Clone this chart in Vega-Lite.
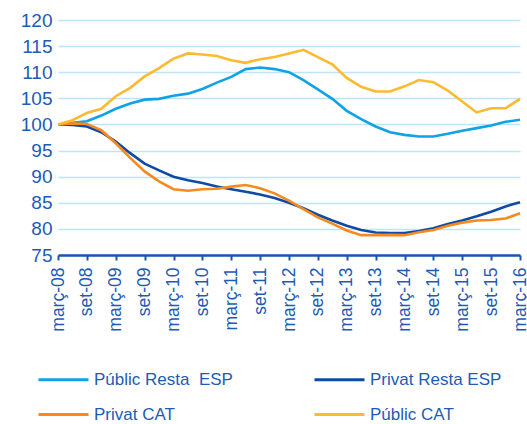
{
  "$schema": "https://vega.github.io/schema/vega-lite/v6.json",
  "width": 462,
  "height": 235,
  "autosize": "none",
  "padding": {"left": 58, "top": 20, "right": 7, "bottom": 169},
  "background": "white",
  "config": {
    "view": {"stroke": null},
    "font": "Liberation Sans"
  },
  "data": {
    "values": [
      {"period": "març-08", "series": "Públic Resta\u00a0 ESP", "value": 100.0},
      {"period": "jun-08", "series": "Públic Resta\u00a0 ESP", "value": 100.3},
      {"period": "set-08", "series": "Públic Resta\u00a0 ESP", "value": 100.6},
      {"period": "des-08", "series": "Públic Resta\u00a0 ESP", "value": 101.7},
      {"period": "març-09", "series": "Públic Resta\u00a0 ESP", "value": 103.0},
      {"period": "jun-09", "series": "Públic Resta\u00a0 ESP", "value": 104.0},
      {"period": "set-09", "series": "Públic Resta\u00a0 ESP", "value": 104.75},
      {"period": "des-09", "series": "Públic Resta\u00a0 ESP", "value": 104.9},
      {"period": "març-10", "series": "Públic Resta\u00a0 ESP", "value": 105.5},
      {"period": "jun-10", "series": "Públic Resta\u00a0 ESP", "value": 105.9},
      {"period": "set-10", "series": "Públic Resta\u00a0 ESP", "value": 106.8},
      {"period": "des-10", "series": "Públic Resta\u00a0 ESP", "value": 108.0},
      {"period": "març-11", "series": "Públic Resta\u00a0 ESP", "value": 109.1},
      {"period": "jun-11", "series": "Públic Resta\u00a0 ESP", "value": 110.6},
      {"period": "set-11", "series": "Públic Resta\u00a0 ESP", "value": 110.9},
      {"period": "des-11", "series": "Públic Resta\u00a0 ESP", "value": 110.6},
      {"period": "març-12", "series": "Públic Resta\u00a0 ESP", "value": 110.0},
      {"period": "jun-12", "series": "Públic Resta\u00a0 ESP", "value": 108.5},
      {"period": "set-12", "series": "Públic Resta\u00a0 ESP", "value": 106.7},
      {"period": "des-12", "series": "Públic Resta\u00a0 ESP", "value": 104.9},
      {"period": "març-13", "series": "Públic Resta\u00a0 ESP", "value": 102.6},
      {"period": "jun-13", "series": "Públic Resta\u00a0 ESP", "value": 101.0},
      {"period": "set-13", "series": "Públic Resta\u00a0 ESP", "value": 99.6},
      {"period": "des-13", "series": "Públic Resta\u00a0 ESP", "value": 98.5},
      {"period": "març-14", "series": "Públic Resta\u00a0 ESP", "value": 98.0},
      {"period": "jun-14", "series": "Públic Resta\u00a0 ESP", "value": 97.7},
      {"period": "set-14", "series": "Públic Resta\u00a0 ESP", "value": 97.7},
      {"period": "des-14", "series": "Públic Resta\u00a0 ESP", "value": 98.2},
      {"period": "març-15", "series": "Públic Resta\u00a0 ESP", "value": 98.8},
      {"period": "jun-15", "series": "Públic Resta\u00a0 ESP", "value": 99.3},
      {"period": "set-15", "series": "Públic Resta\u00a0 ESP", "value": 99.8},
      {"period": "des-15", "series": "Públic Resta\u00a0 ESP", "value": 100.5},
      {"period": "març-16", "series": "Públic Resta\u00a0 ESP", "value": 100.9},

      {"period": "març-08", "series": "Privat Resta ESP", "value": 100.0},
      {"period": "jun-08", "series": "Privat Resta ESP", "value": 99.9},
      {"period": "set-08", "series": "Privat Resta ESP", "value": 99.6},
      {"period": "des-08", "series": "Privat Resta ESP", "value": 98.5},
      {"period": "març-09", "series": "Privat Resta ESP", "value": 96.7},
      {"period": "jun-09", "series": "Privat Resta ESP", "value": 94.5},
      {"period": "set-09", "series": "Privat Resta ESP", "value": 92.5},
      {"period": "des-09", "series": "Privat Resta ESP", "value": 91.2},
      {"period": "març-10", "series": "Privat Resta ESP", "value": 90.0},
      {"period": "jun-10", "series": "Privat Resta ESP", "value": 89.3},
      {"period": "set-10", "series": "Privat Resta ESP", "value": 88.8},
      {"period": "des-10", "series": "Privat Resta ESP", "value": 88.1},
      {"period": "març-11", "series": "Privat Resta ESP", "value": 87.6},
      {"period": "jun-11", "series": "Privat Resta ESP", "value": 87.1},
      {"period": "set-11", "series": "Privat Resta ESP", "value": 86.6},
      {"period": "des-11", "series": "Privat Resta ESP", "value": 85.9},
      {"period": "març-12", "series": "Privat Resta ESP", "value": 85.0},
      {"period": "jun-12", "series": "Privat Resta ESP", "value": 83.95},
      {"period": "set-12", "series": "Privat Resta ESP", "value": 82.7},
      {"period": "des-12", "series": "Privat Resta ESP", "value": 81.6},
      {"period": "març-13", "series": "Privat Resta ESP", "value": 80.6},
      {"period": "jun-13", "series": "Privat Resta ESP", "value": 79.8},
      {"period": "set-13", "series": "Privat Resta ESP", "value": 79.3},
      {"period": "des-13", "series": "Privat Resta ESP", "value": 79.2},
      {"period": "març-14", "series": "Privat Resta ESP", "value": 79.2},
      {"period": "jun-14", "series": "Privat Resta ESP", "value": 79.6},
      {"period": "set-14", "series": "Privat Resta ESP", "value": 80.1},
      {"period": "des-14", "series": "Privat Resta ESP", "value": 80.95},
      {"period": "març-15", "series": "Privat Resta ESP", "value": 81.6},
      {"period": "jun-15", "series": "Privat Resta ESP", "value": 82.4},
      {"period": "set-15", "series": "Privat Resta ESP", "value": 83.3},
      {"period": "des-15", "series": "Privat Resta ESP", "value": 84.3},
      {"period": "març-16", "series": "Privat Resta ESP", "value": 85.1},

      {"period": "març-08", "series": "Privat CAT", "value": 100.0},
      {"period": "jun-08", "series": "Privat CAT", "value": 100.2},
      {"period": "set-08", "series": "Privat CAT", "value": 100.1},
      {"period": "des-08", "series": "Privat CAT", "value": 98.9},
      {"period": "març-09", "series": "Privat CAT", "value": 96.4},
      {"period": "jun-09", "series": "Privat CAT", "value": 93.6},
      {"period": "set-09", "series": "Privat CAT", "value": 91.0},
      {"period": "des-09", "series": "Privat CAT", "value": 89.1},
      {"period": "març-10", "series": "Privat CAT", "value": 87.6},
      {"period": "jun-10", "series": "Privat CAT", "value": 87.3},
      {"period": "set-10", "series": "Privat CAT", "value": 87.6},
      {"period": "des-10", "series": "Privat CAT", "value": 87.7},
      {"period": "març-11", "series": "Privat CAT", "value": 88.1},
      {"period": "jun-11", "series": "Privat CAT", "value": 88.4},
      {"period": "set-11", "series": "Privat CAT", "value": 87.8},
      {"period": "des-11", "series": "Privat CAT", "value": 86.8},
      {"period": "març-12", "series": "Privat CAT", "value": 85.4},
      {"period": "jun-12", "series": "Privat CAT", "value": 83.8},
      {"period": "set-12", "series": "Privat CAT", "value": 82.2},
      {"period": "des-12", "series": "Privat CAT", "value": 81.0},
      {"period": "març-13", "series": "Privat CAT", "value": 79.7},
      {"period": "jun-13", "series": "Privat CAT", "value": 78.8},
      {"period": "set-13", "series": "Privat CAT", "value": 78.8},
      {"period": "des-13", "series": "Privat CAT", "value": 78.85},
      {"period": "març-14", "series": "Privat CAT", "value": 78.8},
      {"period": "jun-14", "series": "Privat CAT", "value": 79.35},
      {"period": "set-14", "series": "Privat CAT", "value": 79.8},
      {"period": "des-14", "series": "Privat CAT", "value": 80.6},
      {"period": "març-15", "series": "Privat CAT", "value": 81.2},
      {"period": "jun-15", "series": "Privat CAT", "value": 81.6},
      {"period": "set-15", "series": "Privat CAT", "value": 81.7},
      {"period": "des-15", "series": "Privat CAT", "value": 82.0},
      {"period": "març-16", "series": "Privat CAT", "value": 83.0},

      {"period": "març-08", "series": "Públic CAT", "value": 100.0},
      {"period": "jun-08", "series": "Públic CAT", "value": 100.8},
      {"period": "set-08", "series": "Públic CAT", "value": 102.2},
      {"period": "des-08", "series": "Públic CAT", "value": 103.0},
      {"period": "març-09", "series": "Públic CAT", "value": 105.4},
      {"period": "jun-09", "series": "Públic CAT", "value": 107.0},
      {"period": "set-09", "series": "Públic CAT", "value": 109.2},
      {"period": "des-09", "series": "Públic CAT", "value": 110.8},
      {"period": "març-10", "series": "Públic CAT", "value": 112.6},
      {"period": "jun-10", "series": "Públic CAT", "value": 113.6},
      {"period": "set-10", "series": "Públic CAT", "value": 113.4},
      {"period": "des-10", "series": "Públic CAT", "value": 113.1},
      {"period": "març-11", "series": "Públic CAT", "value": 112.3},
      {"period": "jun-11", "series": "Públic CAT", "value": 111.8},
      {"period": "set-11", "series": "Públic CAT", "value": 112.5},
      {"period": "des-11", "series": "Públic CAT", "value": 112.9},
      {"period": "març-12", "series": "Públic CAT", "value": 113.6},
      {"period": "jun-12", "series": "Públic CAT", "value": 114.3},
      {"period": "set-12", "series": "Públic CAT", "value": 112.9},
      {"period": "des-12", "series": "Públic CAT", "value": 111.5},
      {"period": "març-13", "series": "Públic CAT", "value": 108.9},
      {"period": "jun-13", "series": "Públic CAT", "value": 107.2},
      {"period": "set-13", "series": "Públic CAT", "value": 106.3},
      {"period": "des-13", "series": "Públic CAT", "value": 106.3},
      {"period": "març-14", "series": "Públic CAT", "value": 107.3},
      {"period": "jun-14", "series": "Públic CAT", "value": 108.5},
      {"period": "set-14", "series": "Públic CAT", "value": 108.1},
      {"period": "des-14", "series": "Públic CAT", "value": 106.5},
      {"period": "març-15", "series": "Públic CAT", "value": 104.4},
      {"period": "jun-15", "series": "Públic CAT", "value": 102.3},
      {"period": "set-15", "series": "Públic CAT", "value": 103.1},
      {"period": "des-15", "series": "Públic CAT", "value": 103.1},
      {"period": "març-16", "series": "Públic CAT", "value": 104.9}
    ]
  },
  "mark": {"type": "line", "strokeWidth": 2.6, "clip": false},
  "encoding": {
    "x": {
      "field": "period",
      "type": "ordinal",
      "sort": null,
      "scale": {"type": "point", "padding": 0},
      "axis": {
        "title": null,
        "values": ["març-08", "set-08", "març-09", "set-09", "març-10", "set-10", "març-11", "set-11", "març-12", "set-12", "març-13", "set-13", "març-14", "set-14", "març-15", "set-15", "març-16"],
        "labelAngle": -90,
        "labelAlign": "right",
        "labelBaseline": "middle",
        "labelFontSize": 17.5,
        "labelColor": "#1E5BB5",
        "labelPadding": 7,
        "domainColor": "#1C55AE",
        "domainWidth": 2.5,
        "tickColor": "#1C55AE",
        "tickWidth": 2,
        "tickSize": 5,
        "grid": false
      }
    },
    "y": {
      "field": "value",
      "type": "quantitative",
      "scale": {"domain": [75, 120], "nice": false, "zero": false},
      "axis": {
        "title": null,
        "values": [75, 80, 85, 90, 95, 100, 105, 110, 115, 120],
        "domain": false,
        "ticks": false,
        "labelFontSize": 19,
        "labelColor": "#1E5BB5",
        "labelPadding": 6,
        "grid": true,
        "gridColor": "#BDE5F7",
        "gridWidth": 1.3
      }
    },
    "color": {
      "field": "series",
      "type": "nominal",
      "sort": null,
      "scale": {
        "domain": ["Públic Resta\u00a0 ESP", "Privat CAT", "Privat Resta ESP", "Públic CAT"],
        "range": ["#0EA2E6", "#F7891F", "#0F4BA3", "#FBBA30"]
      },
      "legend": {
        "title": null,
        "orient": "none",
        "legendX": -21,
        "legendY": 333,
        "columns": 2,
        "columnPadding": 75,
        "rowPadding": 0,
        "symbolType": "stroke",
        "symbolSize": 2500,
        "symbolStrokeWidth": 3,
        "labelFontSize": 17,
        "labelColor": "#1E5BB5",
        "labelOffset": 4
      }
    }
  }
}
